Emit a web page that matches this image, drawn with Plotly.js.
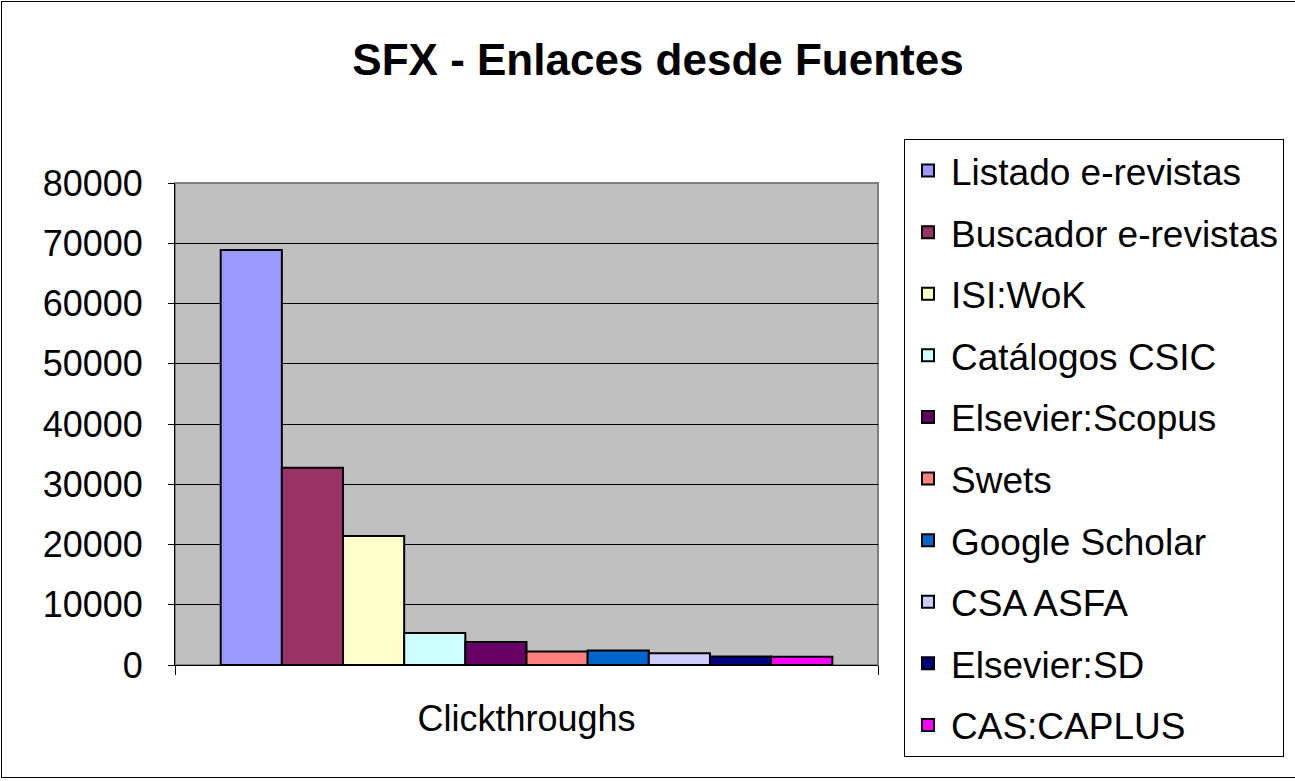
<!DOCTYPE html>
<html>
<head>
<meta charset="utf-8">
<script src="https://cdn.plot.ly/plotly-3.0.1.min.js"></script>
<style>
html,body{margin:0;padding:0;background:#fff;}
#chart{width:1295px;height:781px;box-sizing:border-box;}
#frame{position:absolute;left:1px;top:1px;width:1300px;height:777px;border:1px solid #000;box-sizing:border-box;pointer-events:none;}
</style>
</head>
<body>
<div id="chart"></div>
<div id="frame"></div>
<script>
const category = ["Clickthroughs"];
const sources = ["Listado e-revistas","Buscador e-revistas","ISI:WoK","Catálogos CSIC","Elsevier:Scopus","Swets","Google Scholar","CSA ASFA","Elsevier:SD","CAS:CAPLUS"];
const clickthroughs = [68900, 32750, 21400, 5300, 3800, 2250, 2400, 1950, 1400, 1350];
const colors = ["#9999FF","#993366","#FFFFCC","#CCFFFF","#660066","#FF8080","#0066CC","#CCCCFF","#000080","#FF00FF"];
const yTicks = [0,10000,20000,30000,40000,50000,60000,70000,80000];

const font = "Liberation Sans, Arial, sans-serif";
const W = 1295, H = 781;

const traces = sources.map((s,i)=>({
  type:"bar",
  name:s,
  x:category,
  y:[clickthroughs[i]],
  legendgroup:"g"+i,
  marker:{color:colors[i], line:{color:"#000", width:2}},
  hoverinfo:"skip"
}));

const layout = {
  width:W, height:H,
  paper_bgcolor:"#fff",
  plot_bgcolor:"#C0C0C0",
  margin:{l:175, r:417, t:183, b:116, pad:0},
  barmode:"group",
  bargap:0.13,
  bargroupgap:0,
  title:{text:"<b>SFX - Enlaces desde Fuentes</b>", font:{family:font, size:44, color:"#000"},
         xref:"container", x:658/W, xanchor:"center", yref:"container", y:1-60/H, yanchor:"middle"},
  font:{family:font, color:"#000"},
  xaxis:{type:"category", tickson:"boundaries", ticks:"outside", ticklen:9, tickcolor:"#000", tickwidth:1,
         showline:true, linecolor:"#000", linewidth:1, showgrid:false, zeroline:false,
         tickfont:{family:font, size:36, color:"#000"}, ticklabelstandoff:22, fixedrange:true},
  yaxis:{range:[0,80000], tickvals:yTicks, ticktext:yTicks.map(String), ticks:"outside", ticklen:6, tickcolor:"#000",
         showline:true, linecolor:"#000", linewidth:1, showgrid:true, gridcolor:"#000", gridwidth:1,
         zeroline:false, tickfont:{family:font, size:36, color:"#000"}, ticklabelstandoff:18, fixedrange:true},
  legend:{xref:"container", yref:"container", x:904/W, xanchor:"left", y:1-139/H, yanchor:"top",
          maxheight:760, itemwidth:36,
          bgcolor:"#fff", bordercolor:"#000", borderwidth:1,
          font:{family:font, size:37, color:"#000"}, traceorder:"grouped", tracegroupgap:10.5},
  shapes:[{type:"rect", xref:"paper", yref:"paper", x0:0, x1:1, y0:0, y1:1, line:{color:"#808080", width:2}, layer:"below"}],
  showlegend:true
};

Plotly.newPlot("chart", traces, layout, {displayModeBar:false, staticPlot:true});
</script>
</body>
</html>
